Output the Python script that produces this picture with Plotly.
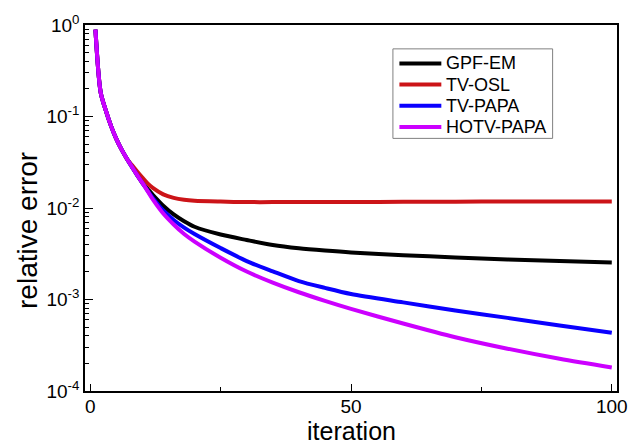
import plotly.graph_objects as go

iters = [1, 2, 3, 4, 5, 6, 7, 8, 9, 10, 11, 12, 14, 16, 18, 20, 25, 30, 35, 40, 45, 50, 60, 70, 80, 90, 100]

gpf_em = [0.89, 0.184, 0.116, 0.0785, 0.0569, 0.0437, 0.0347, 0.0281, 0.0229, 0.0188,
          0.0162, 0.01396, 0.0106, 0.0085, 0.00716, 0.00624, 0.00513, 0.00447, 0.00394, 0.00363,
          0.00343, 0.00327, 0.00305, 0.00288, 0.00274, 0.00263, 0.00254]
tv_osl = [0.89, 0.184, 0.116, 0.0785, 0.0569, 0.0437, 0.0347, 0.0295, 0.0251, 0.0215,
          0.0186, 0.0166, 0.0141, 0.0129, 0.0123, 0.0120, 0.01175, 0.0116, 0.0116, 0.0116,
          0.0116, 0.0116, 0.0117, 0.0117, 0.0118, 0.0118, 0.0118]
tv_papa = [0.89, 0.184, 0.116, 0.0785, 0.0569, 0.0437, 0.0347, 0.0281, 0.0229, 0.0188,
           0.0155, 0.0129, 0.0094, 0.0074, 0.0061, 0.0052, 0.00365, 0.00263, 0.00203, 0.00159,
           0.00134, 0.00115, 0.00093, 0.00076, 0.00063, 0.00052, 0.000432]
hotv_papa = [0.89, 0.184, 0.116, 0.0785, 0.0569, 0.0437, 0.0347, 0.0281, 0.0229, 0.0188,
             0.0153, 0.0124, 0.0087, 0.0066, 0.0052, 0.0043, 0.00286, 0.00202, 0.00153, 0.0012,
             0.000966, 0.00079, 0.000547, 0.000387, 0.00029, 0.000225, 0.000181]

names = ["GPF-EM", "TV-OSL", "TV-PAPA", "HOTV-PAPA"]
colors = ["#000000", "#cc1418", "#0a00ff", "#cc00ff"]
series = [gpf_em, tv_osl, tv_papa, hotv_papa]

y_tickvals = [1, 0.1, 0.01, 0.001, 0.0001]
y_ticktext = ["10<sup>0</sup>", "10<sup>-1</sup>", "10<sup>-2</sup>", "10<sup>-3</sup>", "10<sup>-4</sup>"]
x_tickvals = [0, 50, 100]

W, H = 640, 446
ML, MR, MT, MB = 85, 22, 23, 55
PW, PH = W - ML - MR, H - MT - MB


def px_x(p):
    return (p - ML) / PW


def px_y(p):
    return (H - MB - p) / PH


font_family = "Liberation Sans, Arial, sans-serif"

fig = go.Figure()
for name, col, ys in zip(names, colors, series):
    fig.add_trace(go.Scatter(x=iters, y=ys, mode="lines", name=name, showlegend=False,
                             line=dict(color=col, width=4, shape="spline", smoothing=0.8)))

shapes = []
annotations = []
# legend box
shapes.append(dict(type="rect", xref="paper", yref="paper",
                   x0=px_x(393.5), x1=px_x(553.5), y0=px_y(137), y1=px_y(47),
                   line=dict(color="#808080", width=1), fillcolor="white", layer="above"))
row_y = [61.7, 82.9, 104.2, 125.6]
for name, col, ry in zip(names, colors, row_y):
    shapes.append(dict(type="line", xref="paper", yref="paper",
                       x0=px_x(400), x1=px_x(442), y0=px_y(ry), y1=px_y(ry),
                       line=dict(color=col, width=4), layer="above"))
    annotations.append(dict(xref="paper", yref="paper", x=px_x(445), y=px_y(ry),
                            xanchor="left", yanchor="middle", showarrow=False,
                            text=name, font=dict(size=18, family=font_family, color="black")))
# axis titles
annotations.append(dict(xref="paper", yref="paper", x=px_x(28), y=px_y(230),
                        xanchor="center", yanchor="middle", showarrow=False, textangle=-90,
                        text="relative error", font=dict(size=28, family=font_family, color="black")))
annotations.append(dict(xref="paper", yref="paper", x=px_x(351.5), y=px_y(446),
                        xanchor="center", yanchor="bottom", showarrow=False, borderpad=0,
                        text="iteration", font=dict(size=25, family=font_family, color="black")))

fig.update_layout(
    width=W, height=H,
    margin=dict(l=ML, r=MR, t=MT, b=MB),
    paper_bgcolor="white", plot_bgcolor="white",
    font=dict(family=font_family, color="black"),
    showlegend=False,
    shapes=shapes, annotations=annotations,
)
fig.update_xaxes(
    range=[-1, 101], tickvals=x_tickvals, ticks="inside", ticklen=7, tickwidth=1.2,
    tickcolor="black", showline=True, linecolor="black", linewidth=1.5, mirror=True,
    showgrid=False, zeroline=False, tickfont=dict(size=19), ticklabelstandoff=-3,
    minor=dict(dtick=25, ticks="inside", ticklen=4, tickcolor="black", showgrid=False, tick0=0),
)
fig.update_yaxes(
    type="log", range=[-4, 0], tickvals=y_tickvals, ticktext=y_ticktext,
    ticks="inside", ticklen=8, tickwidth=1.2, tickcolor="black",
    showline=True, linecolor="black", linewidth=1.5, mirror=True,
    showgrid=False, zeroline=False, tickfont=dict(size=19),
    minor=dict(dtick="D1", ticks="inside", ticklen=4, tickcolor="black", showgrid=False),
)

fig.write_html("out.html")
